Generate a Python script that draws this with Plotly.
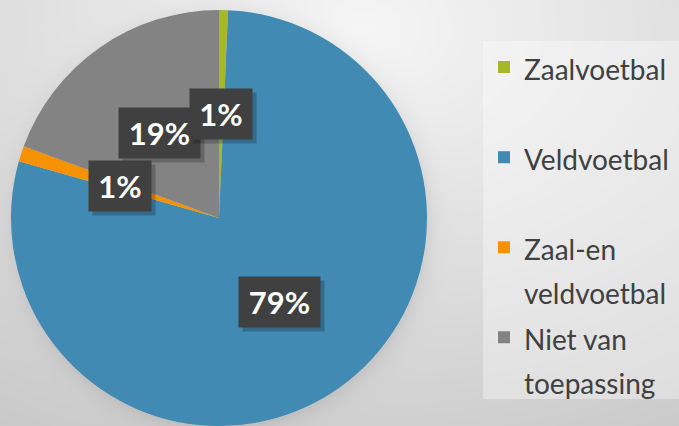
import base64
import math
import struct
import zlib

import numpy as np
import plotly.graph_objects as go

# ---------------- data ----------------
categories = ["Zaalvoetbal", "Veldvoetbal", "Zaal-en veldvoetbal", "Niet van toepassing"]
legend_lines = [["Zaalvoetbal"], ["Veldvoetbal"], ["Zaal-en", "veldvoetbal"], ["Niet van", "toepassing"]]
values = [0.7, 78.7, 1.2, 19.4]
colors = ["#A6B727", "#418AB3", "#F69200", "#838383"]

# ---------------- layout constants ----------------
W, H = 679, 426
PIE_X = [11 / W, 427 / W]
PIE_Y = [0.0, 1 - 10 / H]
LABEL_R = 0.5          # label distance as fraction of radius
LEG_FONT = 33.5        # controls legend line pitch
LEG_TEXT = 28          # visible legend text size


def png_gray(arr):
    h, w = arr.shape
    raw = b"".join(b"\x00" + arr[i].tobytes() for i in range(h))

    def chunk(t, d):
        c = struct.pack(">I", len(d)) + t + d
        return c + struct.pack(">I", zlib.crc32(t + d) & 0xFFFFFFFF)

    return (b"\x89PNG\r\n\x1a\n"
            + chunk(b"IHDR", struct.pack(">IIBBBBB", w, h, 8, 0, 0, 0, 0))
            + chunk(b"IDAT", zlib.compress(raw, 9))
            + chunk(b"IEND", b""))


# pie geometry in pixels
px0, px1 = PIE_X[0] * W, PIE_X[1] * W
py_top, py_bot = (1 - PIE_Y[1]) * H, (1 - PIE_Y[0]) * H
R = min(px1 - px0, py_bot - py_top) / 2
cxp, cyp = (px0 + px1) / 2, (py_top + py_bot) / 2

# background: soft radial grey gradient + pie drop shadow (decoration)
yy, xx = np.mgrid[0:H, 0:W].astype(float)
norm = np.sqrt(((xx - 360) / 700) ** 2 + ((yy - 30) / 480) ** 2)
bg = 246 - 46 * norm
d = np.sqrt((xx - cxp - 2) ** 2 + (yy - cyp - 3) ** 2)
bg -= np.where(d > R - 2, 16 * np.exp(-np.clip(d - R + 2, 0, None) / 9), 16)
bg = np.clip(bg, 0, 255).astype(np.uint8)
bg_uri = "data:image/png;base64," + base64.b64encode(png_gray(bg)).decode()

# legend labels: pad to two lines so every entry has the same pitch
def legend_label(lines):
    parts = [f'<span style="font-size:{LEG_TEXT}px">{t}</span>' for t in lines]
    while len(parts) < 2:
        parts.append(" ")
    return "<br>".join(parts)

labels = [legend_label(l) for l in legend_lines]

fig = go.Figure()
fig.add_trace(go.Pie(
    labels=labels,
    values=values,
    sort=False,
    direction="clockwise",
    rotation=0,
    marker=dict(colors=colors, line=dict(width=0)),
    textinfo="none",
    hoverinfo="label+percent",
    domain=dict(x=PIE_X, y=PIE_Y),
))

# data labels in dark boxes at half radius on each slice's mid-angle
total = sum(values)
cum = 0.0
label_pairs = []
for v in values:
    mid = (cum + v / 2) / total * 2 * math.pi
    cum += v
    txt = f"{round(v / total * 100)}%"
    xp = cxp + LABEL_R * R * math.sin(mid)
    yp = cyp - LABEL_R * R * math.cos(mid)
    x, y = xp / W, 1 - yp / H
    bw = 19 * len(txt) + 24
    common = dict(x=x, y=y, xref="paper", yref="paper", showarrow=False,
                  xanchor="center", yanchor="middle", width=bw, height=50,
                  borderpad=0)
    shadow = dict(common, text=" ", xshift=4, yshift=-4,
                  bgcolor="rgba(0,0,0,0.22)", font=dict(size=31, family="Lato"))
    box = dict(common, text=txt, bgcolor="#404040",
               font=dict(color="white", size=31, family="Lato", weight="bold"))
    label_pairs.append([shadow, box])

# first slice's label ends up on top (as in the reference)
annotations = [a for pair in reversed(label_pairs) for a in pair]

fig.update_layout(
    width=W, height=H,
    margin=dict(l=0, r=0, t=0, b=0, autoexpand=False),
    paper_bgcolor="#dcdcdc",
    images=[dict(source=bg_uri, xref="paper", yref="paper", x=0, y=1,
                 sizex=1, sizey=1, sizing="stretch", xanchor="left",
                 yanchor="top", layer="below")],
    shapes=[dict(type="rect", xref="paper", yref="paper",
                 x0=483 / W, x1=1, y0=1 - 399 / H, y1=1 - 41 / H,
                 fillcolor="rgba(255,255,255,0.35)", line=dict(width=0),
                 layer="below")],
    showlegend=True,
    legend=dict(
        x=484 / W, xanchor="left", y=1 - 38.75 / H, yanchor="top",
        bgcolor="rgba(0,0,0,0)", borderwidth=0, valign="top",
        font=dict(family="Lato", size=LEG_FONT, color="#404040"),
    ),
    annotations=annotations,
)

fig.write_html(
    "out.html",
    config={"displayModeBar": False},
    post_script="document.body.style.margin='0';document.body.style.overflow='hidden';",
)
